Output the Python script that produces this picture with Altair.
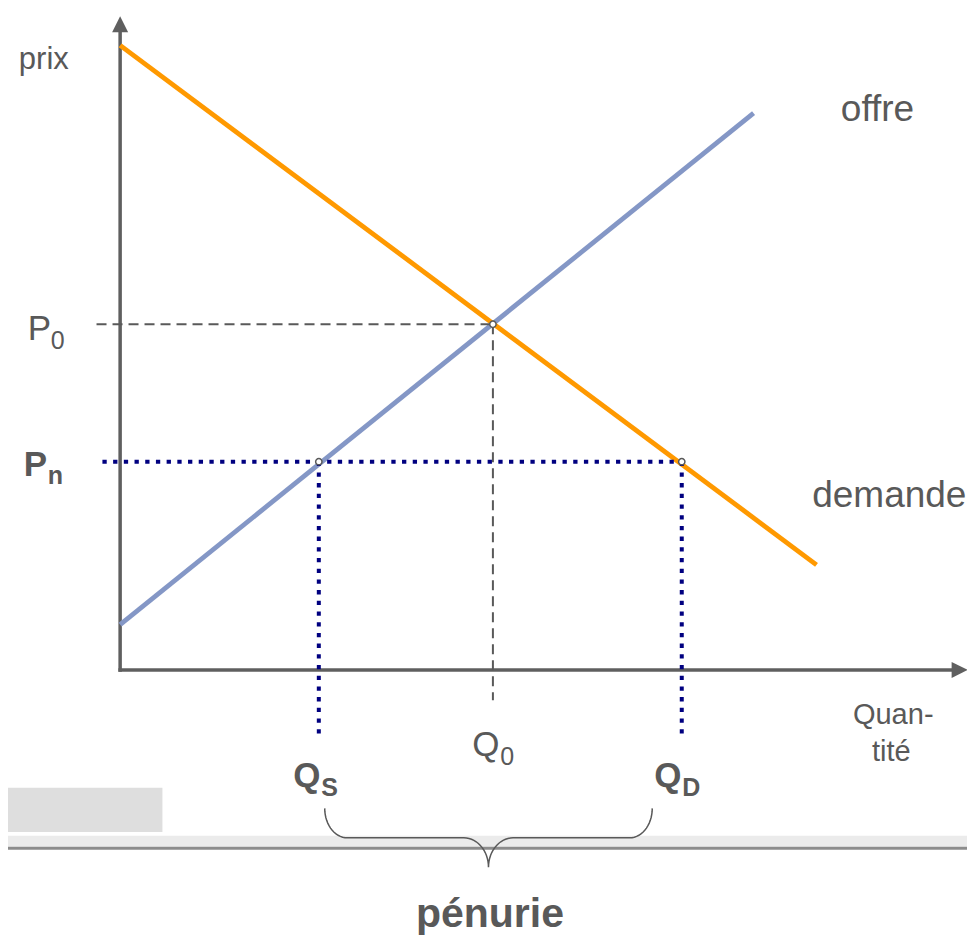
import altair as alt
import pandas as pd
import numpy as np

# ---- values (units: quantity / price, origin at axes corner) ----
Q0, P0 = 37.9, 35.2          # equilibrium
PN = 21.2                    # ceiling price Pn
QS, QD = 20.2, 57.1          # quantity supplied / demanded at Pn
demand_q = [0.0, 70.8]
demand_p = [63.6, 10.7]
supply_q = [0.0, 64.4]
supply_p = [4.6, 56.7]

# frame of the picture in the same units
X_MIN, X_MAX = -11.4, 86.1
Y_MIN, Y_MAX = -27.3, 67.4
W, H = 959, 930

GREY = "#5f5f5f"
TXT = "#595959"
ORANGE = "#ff9900"
BLUE = "#8497c6"
NAVY = "#000080"
FONT = "Liberation Sans"

xs = alt.Scale(domain=[X_MIN, X_MAX], nice=False, zero=False)
ys = alt.Scale(domain=[Y_MIN, Y_MAX], nice=False, zero=False)


def X(f="x"):
    return alt.X(f + ":Q", scale=xs, axis=None)


def Y(f="y"):
    return alt.Y(f + ":Q", scale=ys, axis=None)


def seg(rows, **mk):
    df = pd.DataFrame(rows, columns=["x", "y", "x2", "y2"])
    return alt.Chart(df).mark_rule(**mk).encode(
        x=X(), y=Y(), x2="x2:Q", y2="y2:Q")


layers = []

# decorative bottom elements (slide background pieces)
box = pd.DataFrame({"x": [X_MIN], "x2": [4.3], "y": [-12.0], "y2": [-16.5]})
layers.append(alt.Chart(box).mark_rect(color="#dedede").encode(
    x=X(), x2="x2:Q", y=Y(), y2="y2:Q"))
band = pd.DataFrame({"x": [X_MIN], "x2": [X_MAX], "y": [-16.9], "y2": [-18.0]})
layers.append(alt.Chart(band).mark_rect(color="#ebebeb").encode(
    x=X(), x2="x2:Q", y=Y(), y2="y2:Q"))
layers.append(seg([[X_MIN, -18.15, X_MAX, -18.15]], color="#8c8c8c", strokeWidth=3))

# axes
layers.append(seg([[0, 0, 0, 65.0], [0, 0, 84.6, 0]], color=GREY, strokeWidth=3.5, strokeCap="square"))
arr = pd.DataFrame({"x": [0.0], "y": [65.75]})
layers.append(alt.Chart(arr).mark_point(shape="M-1,1L0,-1L1,1Z", size=256, filled=True,
                                         color=GREY, opacity=1).encode(x=X(), y=Y()))
arr2 = pd.DataFrame({"x": [85.35], "y": [0.0]})
layers.append(alt.Chart(arr2).mark_point(shape="M-1,-1L1,0L-1,1Z", size=256, filled=True,
                                          color=GREY, opacity=1).encode(x=X(), y=Y()))

# curves
layers.append(seg([[supply_q[0], supply_p[0], supply_q[1], supply_p[1]]], color=BLUE, strokeWidth=4.8))
layers.append(seg([[demand_q[0], demand_p[0], demand_q[1], demand_p[1]]], color=ORANGE, strokeWidth=4.8))

# equilibrium guides (dashed)
layers.append(seg([[-2.4, P0, Q0, P0], [Q0, P0, Q0, -3.1]], color=TXT, strokeWidth=2,
                  strokeDash=[10, 6]))

# ceiling price guides (dotted)
layers.append(seg([[-1.8, PN, QD, PN]], color=NAVY, strokeWidth=4, strokeDash=[4.3, 6.4]))
layers.append(seg([[QS, PN, QS, -6.6], [QD, PN, QD, -6.6]], color=NAVY, strokeWidth=4,
                  strokeDash=[4.3, 6.4]))

# intersection markers
pts = pd.DataFrame({"x": [Q0, QS, QD], "y": [P0, PN, PN]})
layers.append(alt.Chart(pts).mark_point(shape="circle", size=40, filled=True, fill="white",
                                         stroke=TXT, strokeWidth=1.5, opacity=1).encode(x=X(), y=Y()))

# brace under QS..QD
L, R = QS + 0.6, QD - 3.0
M = (L + R) / 2
top, h = -14.1, -17.1
rq, rp, mq = 2.3, 3.0, 2.5
bx, by = [], []
def arc(cq, cp, aq, ap, t0, t1, n=16):
    for t in np.linspace(t0, t1, n):
        bx.append(cq + aq * np.cos(t))
        by.append(cp + ap * np.sin(t))
arc(L + rq, top, rq, rp, np.pi, 1.5 * np.pi)
arc(M - mq, h - rp, mq, rp, 0.5 * np.pi, 0.0)
arc(M + mq, h - rp, mq, rp, np.pi, 0.5 * np.pi)
arc(R - rq, top, rq, rp, 1.5 * np.pi, 2 * np.pi)
brace = pd.DataFrame({"x": bx, "y": by, "o": range(len(bx))})
layers.append(alt.Chart(brace).mark_line(color=TXT, strokeWidth=1.5).encode(
    x=X(), y=Y(), order="o:Q"))


# texts
def txt(rows, size, weight="normal", align="left", dx=0, dy=0):
    df = pd.DataFrame(rows, columns=["x", "y", "t"])
    return alt.Chart(df).mark_text(font=FONT, fontSize=size, fontWeight=weight, align=align,
                                   baseline="alphabetic", color=TXT, dx=dx, dy=dy).encode(
        x=X(), y=Y(), text="t:N")


layers.append(txt([[-10.3, 61.2, "prix"]], 31))
layers.append(txt([[77.0, 55.9, "offre"], [78.2, 16.6, "demande"]], 37, align="center"))
layers.append(txt([[78.6, -5.5, "Quan-"], [78.4, -9.3, "tité"]], 29, align="center"))
layers.append(txt([[37.6, -26.2, "pénurie"]], 41, weight="bold", align="center"))
# P0 and Q0
layers.append(txt([[-9.4, 33.6, "P"], [35.8, -8.8, "Q"]], 35))
layers.append(txt([[-9.4, 33.6, "0"]], 25, dx=23, dy=9))
layers.append(txt([[35.8, -8.8, "0"]], 25, dx=28, dy=9))
# Pn, QS, QD
layers.append(txt([[-9.8, 19.7, "P"], [17.6, -11.9, "Q"], [54.3, -11.9, "Q"]], 35, weight="bold"))
layers.append(txt([[-9.8, 19.7, "n"]], 25, weight="bold", dx=24, dy=8))
layers.append(txt([[17.6, -11.9, "S"], [54.3, -11.9, "D"]], 25, weight="bold", dx=28, dy=9))

chart = alt.layer(*layers).properties(
    width=W, height=H, padding=0,
    autosize=alt.AutoSizeParams(type="none"),
).configure_view(stroke=None)

chart.save("out.html", embed_options={"renderer": "svg", "actions": False})
